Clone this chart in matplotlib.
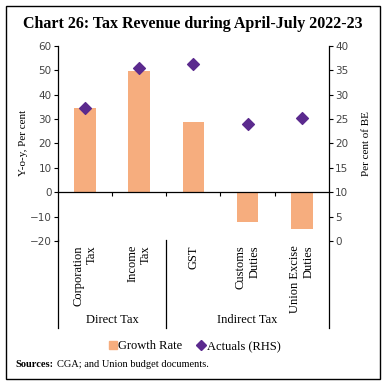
import matplotlib.pyplot as plt
import matplotlib.patches as mpatches
from matplotlib.lines import Line2D

# ── Data ──
categories = ['Corporation\nTax', 'Income\nTax', 'GST', 'Customs\nDuties', 'Union Excise\nDuties']
growth_rate = [34.7, 49.8, 28.7, -12.0, -15.0]      # LHS, y-o-y per cent
actuals_rhs = [27.2, 35.4, 36.3, 23.9, 25.3]        # RHS, per cent of BE
groups = ['Direct Tax', 'Indirect Tax']
group_sizes = [2, 3]

BAR_C = '#F6AD7E'
DOT_C = '#5B2A8E'
SERIF = 'Liberation Serif'
SANS = 'DejaVu Sans'
LOW = -0.445   # bottom of the group separators, axes fraction

fig = plt.figure(figsize=(3.86, 3.84), dpi=100)
ax = fig.add_axes([0.150, 0.372, 0.702, 0.509])
ax2 = ax.twinx()

x = list(range(len(categories)))
ax.bar(x, growth_rate, width=0.4, color=BAR_C, zorder=2)
ax2.scatter(x, actuals_rhs, marker='D', s=36, color=DOT_C, zorder=3)

ax.set_xlim(-0.5, len(categories) - 0.5)
ax.set_ylim(-20, 60)
ax.set_yticks(range(-20, 61, 10))
ax2.set_ylim(0, 40)
ax2.set_yticks(range(0, 41, 5))

# spines
for s in ['top', 'right']:
    ax.spines[s].set_visible(False)
for s in ['top', 'left', 'bottom']:
    ax2.spines[s].set_visible(False)
ax.spines['bottom'].set_position(('data', 0))
ax.spines['left'].set_linewidth(0.9)
ax2.spines['right'].set_linewidth(0.9)
ax2.spines['right'].set_bounds(LOW * 40, 40)
ax.spines['bottom'].set_linewidth(0.9)

ax.set_xticks([i + 0.5 for i in x[:-1]])
ax.set_xticklabels([])
ax.tick_params(axis='x', direction='out', length=3, width=0.8)
ax.tick_params(axis='y', direction='out', length=3, width=0.8, labelsize=7.5, pad=1.5)
ax2.tick_params(axis='y', direction='out', length=3, width=0.8, labelsize=7.5, pad=1.5)
for t in ax.get_yticklabels() + ax2.get_yticklabels():
    t.set_fontfamily(SANS)
    t.set_color('#444444')

ax.set_ylabel('Y-o-y, Per cent', fontsize=8, family=SERIF, labelpad=1)
ax2.set_ylabel('Per cent of BE', fontsize=8, family=SERIF, labelpad=10)

# category labels (rotated)
tr = ax.get_xaxis_transform()
for xi, lab in zip(x, categories):
    ax.text(xi, -0.02, lab, transform=tr, rotation=90, ha='center', va='top',
            multialignment='right', linespacing=1.2, fontsize=9, family=SERIF,
            clip_on=False)

# group separators and labels
bounds = [-0.5]
for n in group_sizes:
    bounds.append(bounds[-1] + n)
for b in bounds[:-1]:
    ax.add_line(Line2D([b, b], [0.005, LOW], transform=tr, color='black',
                       lw=0.9, clip_on=False))
for g, a, b in zip(groups, bounds[:-1], bounds[1:]):
    ax.text((a + b) / 2, -0.405, g, transform=tr, ha='center', va='center',
            fontsize=9, family=SERIF, clip_on=False)

# legend
handles = [mpatches.Patch(color=BAR_C, label='Growth Rate'),
           Line2D([], [], marker='D', color=DOT_C, lw=0, markersize=5.5, label='Actuals (RHS)')]
fig.legend(handles=handles, loc='center', bbox_to_anchor=(0.505, 0.098), ncol=2,
           frameon=False, prop={'family': SERIF, 'size': 9}, handlelength=0.6,
           handletextpad=0.15, columnspacing=1.2, handleheight=0.7)

# title and source
fig.text(0.5, 0.937, 'Chart 26: Tax Revenue during April-July 2022-23', ha='center',
         va='center', fontsize=11.5, fontweight='bold', family=SERIF)
t1 = fig.text(0.041, 0.052, 'Sources:', ha='left', va='center', fontsize=7.5,
              fontweight='bold', family=SERIF)
fig.canvas.draw()
bb = t1.get_window_extent().transformed(fig.transFigure.inverted())
fig.text(bb.x1 + 0.008, 0.052, 'CGA; and Union budget documents.', ha='left',
         va='center', fontsize=7.5, family=SERIF)

# frame around the chart
fig.add_artist(mpatches.Rectangle((0.015, 0.013), 0.970, 0.971, transform=fig.transFigure,
                                  fill=False, edgecolor='black', lw=1.0))

fig.savefig('out.png', dpi=100, facecolor='white')
